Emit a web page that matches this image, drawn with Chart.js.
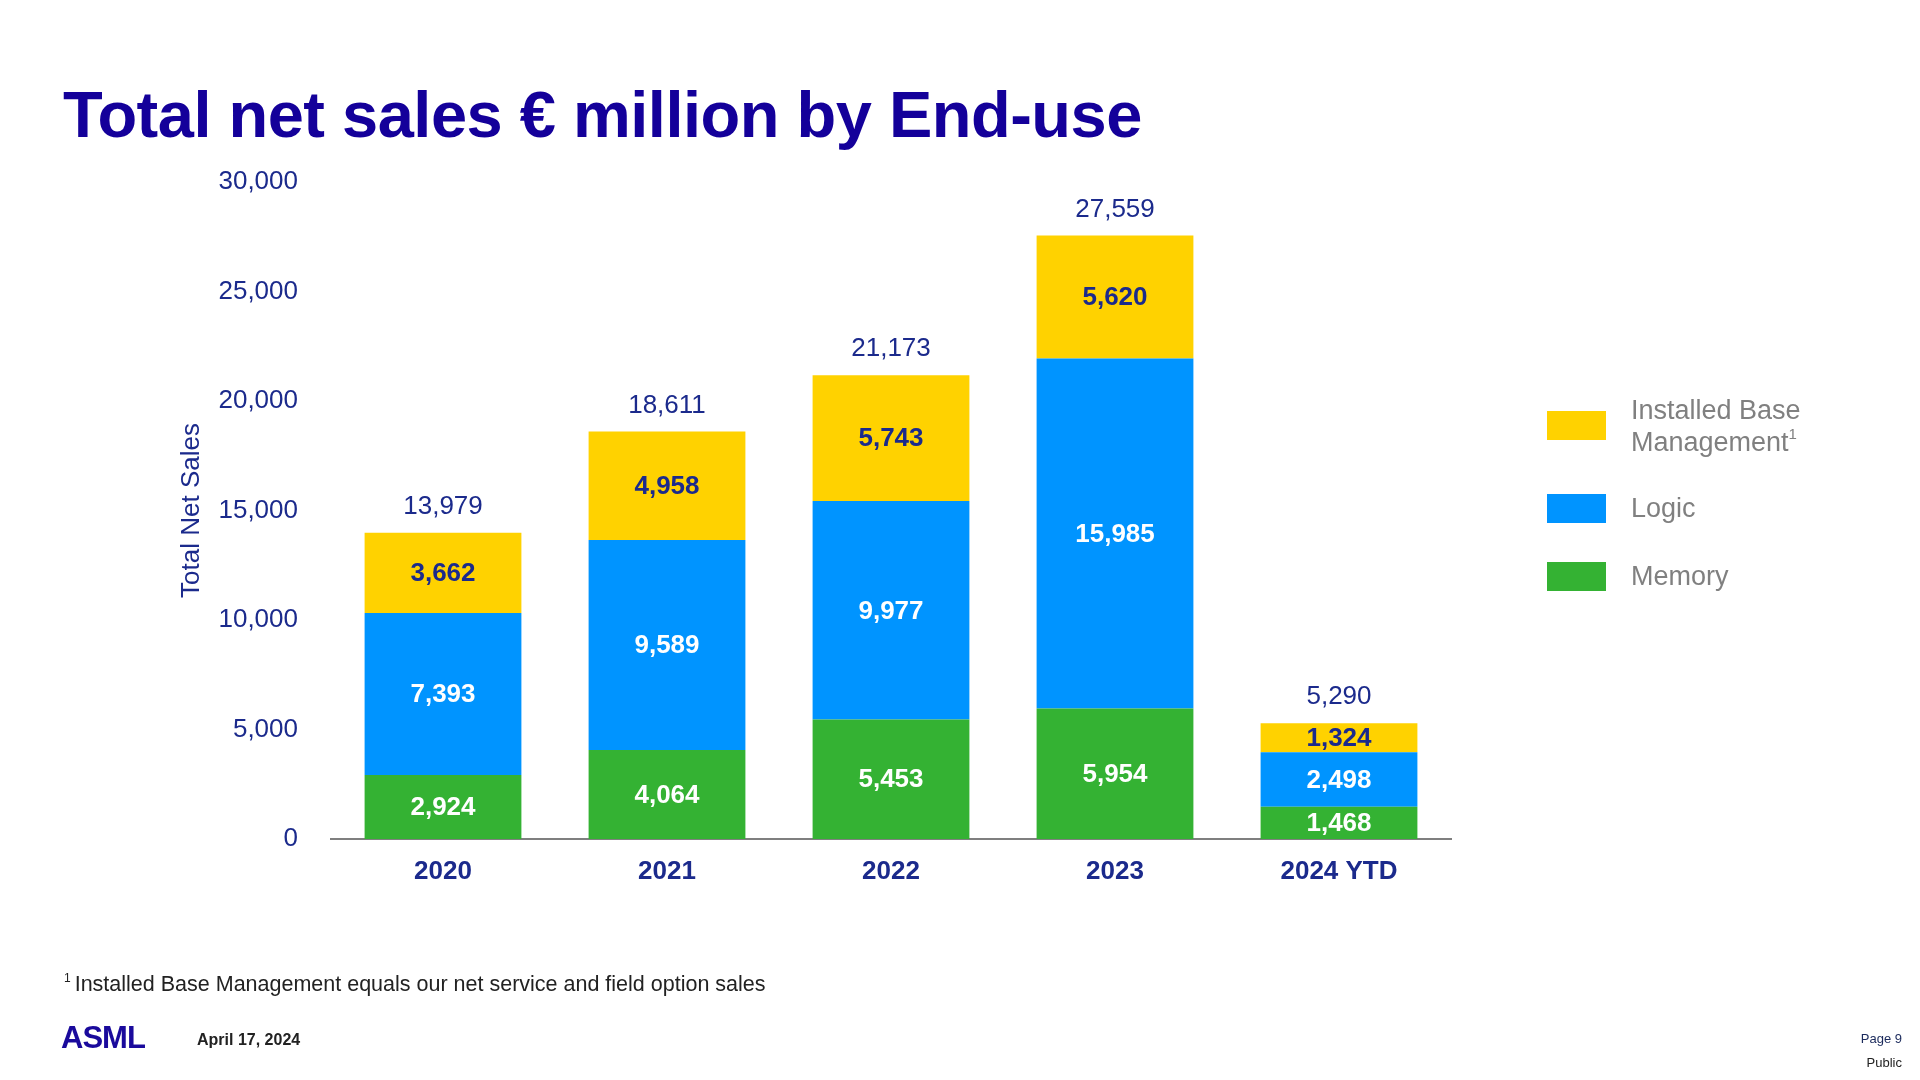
<!DOCTYPE html>
<html>
<head>
<meta charset="utf-8">
<script src="https://cdn.jsdelivr.net/npm/chart.js@4.4.1/dist/chart.umd.min.js"></script>
<style>
  html, body { margin: 0; padding: 0; background: #fff; }
  body { width: 1920px; height: 1080px; position: relative; overflow: hidden; font-family: "Liberation Sans", Arial, sans-serif; }
  #wrap { position: absolute; left: 0; top: 0; width: 1920px; height: 1080px; }
  .title { position: absolute; left: 63px; top: 77px; font-size: 65px; font-weight: bold; color: #14009a; letter-spacing: -0.5px; }
  .legend { position: absolute; left: 1547px; color: #808080; font-size: 27px; }
  .legend .box { position: absolute; left: 0; width: 59px; height: 29px; }
  .legend .txt { position: absolute; left: 84px; line-height: 32px; white-space: nowrap; }
  .legend sup { font-size: 15px; vertical-align: 12px; line-height: 0; }
  .note { position: absolute; left: 64px; top: 972px; font-size: 21.5px; color: #222; }
  .note sup { font-size: 12px; vertical-align: 9px; line-height: 0; margin-right: 4px; }
  .logo { position: absolute; left: 61px; top: 1020px; font-size: 31px; font-weight: bold; color: #1a0a9c; font-family: "Liberation Sans Narrow", "Liberation Sans", sans-serif; letter-spacing: -1px; }
  .date { position: absolute; left: 197px; top: 1031px; font-size: 16px; font-weight: bold; color: #222; }
  .page { position: absolute; right: 18px; top: 1031px; font-size: 13px; color: #1b2a5c; }
  .public { position: absolute; right: 18px; top: 1055px; font-size: 13px; color: #222; }
</style>
</head>
<body>
<div class="title">Total net sales € million by End-use</div>
<div id="wrap"><canvas id="sales"></canvas></div>
<div id="legend"></div>
<div class="note"><sup>1</sup>Installed Base Management equals our net service and field option sales</div>
<div class="logo">ASML</div>
<div class="date">April 17, 2024</div>
<div class="page">Page 9</div>
<div class="public">Public</div>
<script>
const years = ["2020", "2021", "2022", "2023", "2024 YTD"];
const memory = [2924, 4064, 5453, 5954, 1468];
const logic = [7393, 9589, 9977, 15985, 2498];
const installedBase = [3662, 4958, 5743, 5620, 1324];
const totals = [13979, 18611, 21173, 27559, 5290];
const yTicks = [0, 5000, 10000, 15000, 20000, 25000, 30000];

const navy = "#1b2a8c";
const colYellow = "#ffd200";
const colBlue = "#0094ff";
const colGreen = "#34b233";

const fmt = (v) => v.toLocaleString("en-US");

// legend (top item first, like the slide)
const legendItems = [
  { name: "Installed Base<br>Management<sup>1</sup>", color: colYellow, boxTop: 411, txtTop: 394 },
  { name: "Logic", color: colBlue, boxTop: 494, txtTop: 492 },
  { name: "Memory", color: colGreen, boxTop: 562, txtTop: 560 },
];
const lg = document.getElementById("legend");
legendItems.forEach((it) => {
  const d = document.createElement("div");
  d.className = "legend";
  d.style.top = "0px";
  d.innerHTML = '<div class="box" style="top:' + it.boxTop + 'px;background:' + it.color + '"></div>' +
    '<div class="txt" style="top:' + it.txtTop + 'px">' + it.name + "</div>";
  lg.appendChild(d);
});

// segment values + totals drawn on the bars
const barLabels = {
  id: "barLabels",
  afterDatasetsDraw(chart) {
    const ctx = chart.ctx;
    ctx.save();
    ctx.textAlign = "center";
    ctx.textBaseline = "middle";
    chart.data.datasets.forEach((ds, di) => {
      const meta = chart.getDatasetMeta(di);
      meta.data.forEach((bar, i) => {
        const mid = (bar.y + bar.base) / 2;
        ctx.font = "bold 26px 'Liberation Sans', Arial, sans-serif";
        ctx.fillStyle = ds.labelColor;
        ctx.fillText(fmt(ds.data[i]), bar.x, mid + 1);
      });
    });
    const y = chart.scales.y;
    const top = chart.getDatasetMeta(chart.data.datasets.length - 1);
    ctx.font = "26px 'Liberation Sans', Arial, sans-serif";
    ctx.fillStyle = navy;
    totals.forEach((t, i) => {
      ctx.fillText(fmt(t), top.data[i].x, y.getPixelForValue(t) - 26);
    });
    ctx.restore();
  },
};

new Chart(document.getElementById("sales"), {
  type: "bar",
  data: {
    labels: years,
    datasets: [
      { label: "Memory", data: memory, backgroundColor: colGreen, labelColor: "#ffffff" },
      { label: "Logic", data: logic, backgroundColor: colBlue, labelColor: "#ffffff" },
      { label: "Installed Base Management", data: installedBase, backgroundColor: colYellow, labelColor: navy },
    ],
  },
  options: {
    responsive: true,
    maintainAspectRatio: false,
    animation: false,
    datasets: {
      bar: { barPercentage: 0.7, categoryPercentage: 1, borderWidth: 0 },
    },
    layout: {
      padding: { left: 176, right: 469, top: 182, bottom: 181 },
    },
    plugins: {
      legend: { display: false },
      tooltip: { enabled: false },
    },
    scales: {
      x: {
        stacked: true,
        grid: { display: false },
        border: { display: true, color: "#7f7f7f", width: 2 },
        ticks: {
          color: navy,
          padding: 9,
          font: { family: "'Liberation Sans', Arial, sans-serif", size: 26, weight: "bold" },
        },
        afterFit(scale) { scale.height = 60; },
      },
      y: {
        stacked: true,
        min: 0,
        max: 30000,
        afterBuildTicks(scale) { scale.ticks = yTicks.map((v) => ({ value: v })); },
        grid: { display: false, drawTicks: false },
        border: { display: false },
        ticks: {
          color: navy,
          padding: 33,
          font: { family: "'Liberation Sans', Arial, sans-serif", size: 26 },
          callback: (v) => fmt(v),
        },
        title: {
          display: true,
          text: "Total Net Sales",
          color: navy,
          padding: { top: 0, bottom: 7 },
          font: { family: "'Liberation Sans', Arial, sans-serif", size: 26 },
        },
        afterFit(scale) { scale.width = 155; },
      },
    },
  },
  plugins: [barLabels],
});
</script>
</body>
</html>
